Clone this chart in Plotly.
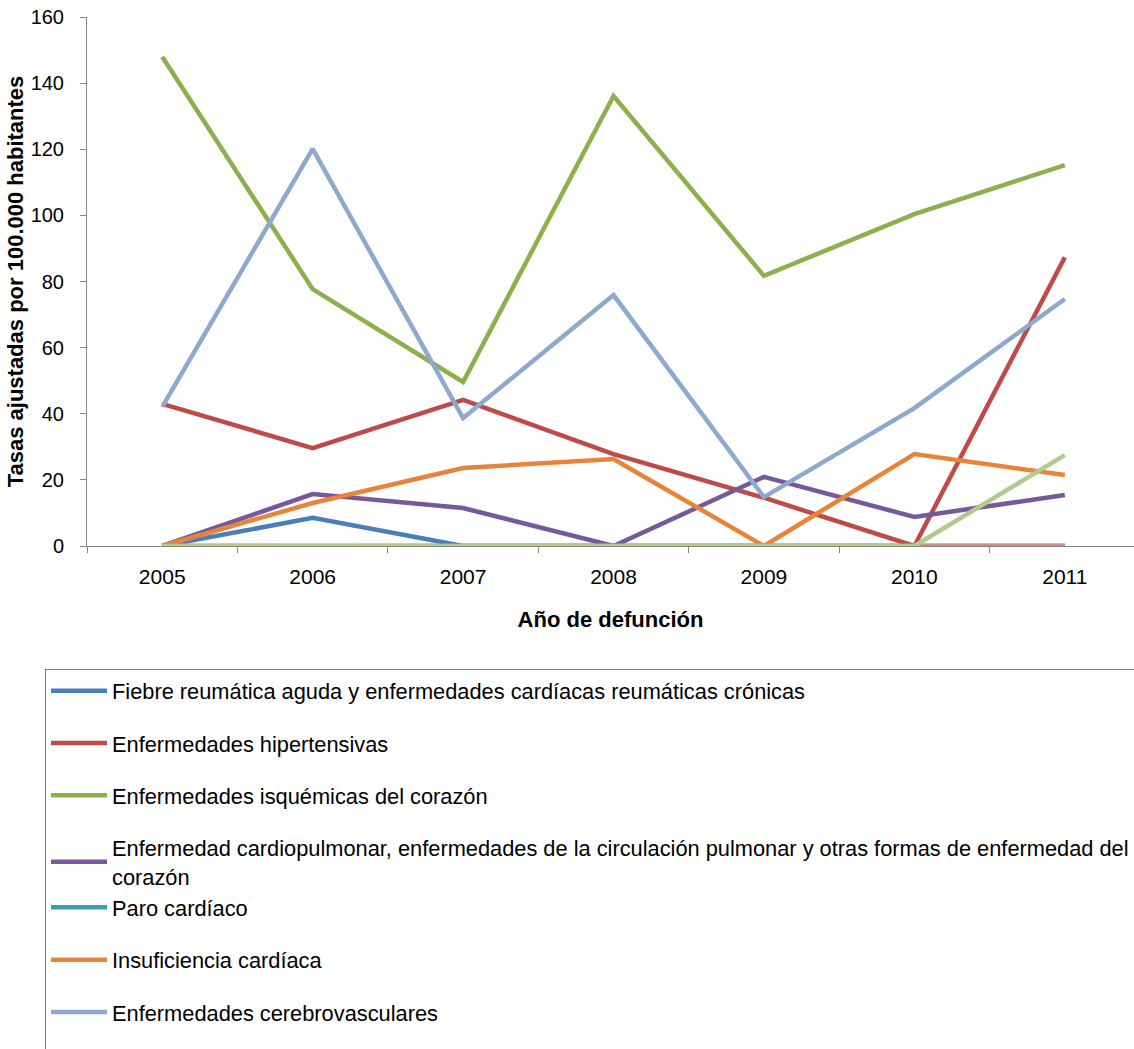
import plotly.graph_objects as go

# Años de defunción
years = ["2005", "2006", "2007", "2008", "2009", "2010", "2011"]

# Tasas ajustadas por 100.000 habitantes, por causa
fiebre_reumatica = [0, 8.5, 0, 0, 0, 0, 0]
hipertensivas = [43.0, 29.6, 44.2, 27.8, 14.6, 0, 87.3]
isquemicas = [148.0, 77.7, 49.6, 136.1, 81.7, 100.4, 115.2]
cardiopulmonar = [0, 15.7, 11.5, 0, 20.9, 8.8, 15.4]
paro_cardiaco = [0, 0, 0, 0, 0, 0, 0]
insuficiencia = [0, 13.0, 23.6, 26.3, 0, 27.8, 21.5]
cerebrovasculares = [42.1, 120.1, 38.7, 75.9, 14.8, 41.7, 74.7]
aterosclerosis = [0, 0, 0, 0, 0, 0, 0]
demas_circulatorio = [0, 0, 0, 0, 0, 0, 27.5]

# (nombre, valores, color, grupo de leyenda)
series = [
    ("Fiebre reumática aguda y enfermedades cardíacas reumáticas crónicas", fiebre_reumatica, "#4A7EBB", "g1"),
    ("Enfermedades hipertensivas", hipertensivas, "#BE4B48", "g2"),
    ("Enfermedades isquémicas del corazón", isquemicas, "#8DB04D", "g3"),
    ("Enfermedad cardiopulmonar, enfermedades de la circulación pulmonar y otras formas de enfermedad del<br>corazón",
     cardiopulmonar, "#76599B", "g4"),
    ("Paro cardíaco", paro_cardiaco, "#3E9BB5", "g4"),
    ("Insuficiencia cardíaca", insuficiencia, "#E8843A", "g6"),
    ("Enfermedades cerebrovasculares", cerebrovasculares, "#8EA9D0", "g7"),
    ("Aterosclerosis", aterosclerosis, "#D48C8A", "g8"),
    ("Las demás enfermedades del sistema circulatorio", demas_circulatorio, "#B2CA8D", "g9"),
]

FONT = "Liberation Sans, Arial, sans-serif"

fig = go.Figure()
for name, values, color, group in series:
    fig.add_trace(go.Scatter(
        x=years, y=values, name=name, mode="lines",
        line=dict(color=color, width=4.5),
        legendgroup=group,
    ))

axis_color = "#868686"
fig.update_layout(
    width=1134, height=1049,
    margin=dict(l=87, r=0, t=17, b=503, autoexpand=False),
    paper_bgcolor="white", plot_bgcolor="white",
    font=dict(family=FONT, color="black"),
    showlegend=True,
    legend=dict(
        x=-0.0401, y=-0.2325, xanchor="left", yanchor="top",
        bordercolor="#4F81BD", borderwidth=1, bgcolor="white",
        font=dict(size=21.8, family=FONT, color="black"),
        traceorder="grouped", tracegroupgap=21, itemwidth=56,
    ),
    xaxis=dict(
        type="category", categoryorder="array", categoryarray=years,
        range=[-0.5, 6.46],
        showline=True, linecolor=axis_color, linewidth=1,
        ticks="outside", ticklen=6, tickcolor=axis_color, tickson="boundaries",
        showgrid=False, zeroline=False,
        tickfont=dict(size=21, family=FONT, color="black"),
        ticklabelstandoff=12,
        title=dict(text="<b>Año de defunción</b>", font=dict(size=22, family=FONT), standoff=24),
    ),
    yaxis=dict(
        range=[0, 160], dtick=20,
        showline=True, linecolor=axis_color, linewidth=1,
        ticks="outside", ticklen=6, tickcolor=axis_color,
        showgrid=False, zeroline=False,
        tickfont=dict(size=20, family=FONT, color="black"),
        ticklabelstandoff=12,
        title=dict(text="<b>Tasas ajustadas por 100.000 habitantes</b>", font=dict(size=22, family=FONT), standoff=0),
    ),
)

fig.write_html("out.html")
